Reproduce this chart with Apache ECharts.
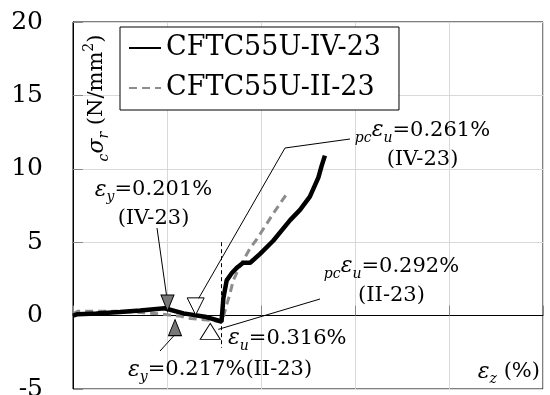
<!DOCTYPE html>
<html>
<head>
<meta charset="utf-8">
<script src="https://cdn.jsdelivr.net/npm/echarts@6/dist/echarts.min.js"></script>
<style>
  html, body { margin: 0; padding: 0; background: #fff; }
  #chart { width: 550px; height: 395px; }
</style>
</head>
<body>
<div id="chart"></div>
<script>
// Axial strain (%) vs. confining stress cσr (N/mm²) of two CFT column specimens
const seriesNames = ['CFTC55U-IV-23', 'CFTC55U-II-23'];

const strainIV = [0, 0.01, 0.05, 0.10, 0.143, 0.195, 0.235, 0.284, 0.316, 0.320, 0.327, 0.338, 0.350, 0.362, 0.377, 0.398, 0.426, 0.462, 0.483, 0.504, 0.522, 0.529, 0.536];
const stressIV = [0.0, 0.1, 0.15, 0.25, 0.35, 0.5, 0.15, -0.1, -0.4, 1.2, 2.4, 2.9, 3.3, 3.6, 3.6, 4.2, 5.1, 6.5, 7.2, 8.1, 9.4, 10.2, 10.9];

const strainII = [0, 0.01, 0.05, 0.10, 0.15, 0.19, 0.23, 0.25, 0.30, 0.317, 0.325, 0.334, 0.341, 0.355, 0.377, 0.391, 0.426, 0.458];
const stressII = [0.1, 0.3, 0.3, 0.3, 0.2, 0.1, -0.05, -0.2, -0.35, -0.45, 0.5, 1.5, 2.4, 3.35, 4.6, 5.2, 6.95, 8.45];

// characteristic strains (%)
const yieldStrainIV = 0.201;
const yieldStrainII = 0.217;
const pcUltStrainIV = 0.261;
const pcUltStrainII = 0.292;
const ultStrainII = 0.316;

const yTicks = { min: -5, max: 20, step: 5 };
const xTicks = { min: 0, max: 1.0, step: 0.2 };

const SERIF = 'DejaVu Serif';

function stressAt(xs, ys, s) {
  for (let i = 1; i < xs.length; i++) {
    if (s <= xs[i]) {
      const t = (s - xs[i - 1]) / (xs[i] - xs[i - 1]);
      return ys[i - 1] + t * (ys[i] - ys[i - 1]);
    }
  }
  return ys[ys.length - 1];
}

const pairs = (xs, ys) => xs.map((x, i) => [x, ys[i]]);

const TRI_FILLED = { color: '#777', borderColor: '#000', borderWidth: 1 };
const TRI_OPEN = { color: '#fff', borderColor: '#000', borderWidth: 1 };

const markers = {
  yIV:  { coord: [yieldStrainIV, stressAt(strainIV, stressIV, yieldStrainIV)], rot: 180, off: [0, -6], size: [13, 16], style: TRI_FILLED },
  pcIV: { coord: [pcUltStrainIV, stressAt(strainIV, stressIV, pcUltStrainIV)], rot: 180, off: [0, -9], size: [17, 17], style: TRI_OPEN },
  yII:  { coord: [yieldStrainII, stressAt(strainII, stressII, yieldStrainII)], rot: 0, off: [0, 12], size: [13, 16], style: TRI_FILLED },
  pcII: { coord: [pcUltStrainII, stressAt(strainII, stressII, pcUltStrainII)], rot: 0, off: [0, 11], size: [20, 16], style: TRI_OPEN }
};

const mp = m => ({ coord: m.coord, symbolRotate: m.rot, symbolOffset: m.off, symbolSize: m.size, itemStyle: m.style });

const chart = echarts.init(document.getElementById('chart'), null, { renderer: 'canvas' });

const option = {
  animation: false,
  backgroundColor: '#fff',
  grid: {
    left: 73, right: 7, top: 22, bottom: 6,
    show: true, borderColor: '#000', borderWidth: 1,
    backgroundColor: 'transparent',
    outerBoundsMode: 'none', containLabel: false
  },
  xAxis: {
    type: 'value', min: xTicks.min, max: xTicks.max, interval: xTicks.step,
    axisLine: { show: true, onZero: true, lineStyle: { color: '#000', width: 1 } },
    axisTick: { show: true, inside: true, length: 10, lineStyle: { color: '#888' } },
    axisLabel: { show: false },
    splitLine: { show: true, lineStyle: { color: '#d9d9d9', width: 1 } }
  },
  yAxis: {
    type: 'value', min: yTicks.min, max: yTicks.max, interval: yTicks.step,
    axisLine: { show: true, lineStyle: { color: '#000', width: 1 } },
    axisTick: { show: true, inside: true, length: 10, lineStyle: { color: '#888' } },
    axisLabel: { show: true, fontFamily: SERIF, fontSize: 25, color: '#000', margin: 30, padding: [6, 0, 0, 0] },
    splitLine: { show: true, lineStyle: { color: '#d9d9d9', width: 1 } }
  },
  legend: {
    data: seriesNames,
    orient: 'vertical',
    left: 120, top: 27,
    itemWidth: 32, itemHeight: 14, itemGap: 10,
    padding: [6, 18, 7, 8],
    borderColor: '#000', borderWidth: 1, backgroundColor: '#fff',
    itemStyle: { opacity: 0 },
    textStyle: { fontFamily: SERIF, fontSize: 27, color: '#000', lineHeight: 30 },
    selectedMode: false
  },
  series: [
    {
      name: seriesNames[0], type: 'line', data: pairs(strainIV, stressIV),
      symbol: 'none', showSymbol: false, z: 3,
      lineStyle: { color: '#000', width: 4.5 }, itemStyle: { color: '#000' },
      markPoint: {
        symbol: 'triangle', silent: true, label: { show: false },
        data: [mp(markers.yIV), mp(markers.pcIV)]
      },
      markLine: {
        symbol: 'none', silent: true, label: { show: false },
        lineStyle: { color: '#000', width: 1, type: [4, 3] },
        data: [[{ coord: [ultStrainII, 5] }, { coord: [ultStrainII, -2.2] }]]
      }
    },
    {
      name: seriesNames[1], type: 'line', data: pairs(strainII, stressII),
      symbol: 'none', showSymbol: false, z: 2,
      lineStyle: { color: '#8c8c8c', width: 3, type: [8, 5] }, itemStyle: { color: '#8c8c8c' },
      markPoint: {
        symbol: 'triangle', silent: true, label: { show: false },
        data: [mp(markers.yII), mp(markers.pcII)]
      }
    }
  ]
};

chart.setOption(option);

// leader lines and annotation texts
const rich = {
  n: { fontFamily: SERIF, fontSize: 21, lineHeight: 29, verticalAlign: 'middle', fill: '#000' },
  e: { fontFamily: SERIF, fontSize: 22, fontStyle: 'italic', lineHeight: 29, verticalAlign: 'middle', fill: '#000' },
  s: { fontFamily: SERIF, fontSize: 14, fontStyle: 'italic', lineHeight: 10, verticalAlign: 'bottom', fill: '#000' },
  p: { fontFamily: SERIF, fontSize: 14, lineHeight: 10, verticalAlign: 'top', fill: '#000' }
};

function center(m) {
  const p = chart.convertToPixel({ gridIndex: 0 }, m.coord);
  return [p[0] + m.off[0], p[1] + m.off[1]];
}

const cYIV = center(markers.yIV), cPcIV = center(markers.pcIV);
const cYII = center(markers.yII), cPcII = center(markers.pcII);

const leader = pts => ({
  type: 'polyline', silent: true, z: 100,
  shape: { points: pts },
  style: { stroke: '#000', lineWidth: 1, fill: null }
});

const label = (x, y, text, align, vAlign) => ({
  type: 'text', silent: true, z: 100, x: x, y: y,
  style: {
    text: text, rich: rich, fill: '#000',
    font: '21px "DejaVu Serif"',
    textAlign: align, textVerticalAlign: vAlign || 'top', verticalAlign: vAlign || 'top'
  }
});

chart.setOption({
  graphic: [
    leader([[157, 228], [cYIV[0] - 1, cYIV[1] - 8]]),
    leader([[160, 351], [cYII[0] - 1, cYII[1] + 8]]),
    leader([[350, 139], [285, 148], [cPcIV[0] + 3, cPcIV[1] - 8]]),
    leader([[320, 299], [cPcII[0] + 8, cPcII[1] - 2]]),
    label(153.5, 175.5, '{e|ε}{s|y}{n|=0.201%}\n{n|(IV-23)}', 'center'),
    label(422.5, 116, '{s|pc}{e|ε}{s|u}{n|=0.261%}\n{n|(IV-23)}', 'center'),
    label(391.5, 252, '{s|pc}{e|ε}{s|u}{n|=0.292%}\n{n|(II-23)}', 'center'),
    label(228, 324, '{e|ε}{s|u}{n|=0.316%}', 'left'),
    label(128, 355.5, '{e|ε}{s|y}{n|=0.217%(II-23)}', 'left'),
    label(540, 357.5, '{e|ε}{s|z}{n| (%)}', 'right'),
    {
      type: 'text', silent: true, z: 100, x: 97, y: 98, rotation: Math.PI / 2,
      style: {
        text: '{s|c}{e|σ}{s|r}{n| (N/mm}{p|2}{n|)}', rich: rich, fill: '#000',
        font: '21px "DejaVu Serif"',
        textAlign: 'center', textVerticalAlign: 'middle', verticalAlign: 'middle'
      }
    }
  ]
});
</script>
</body>
</html>
